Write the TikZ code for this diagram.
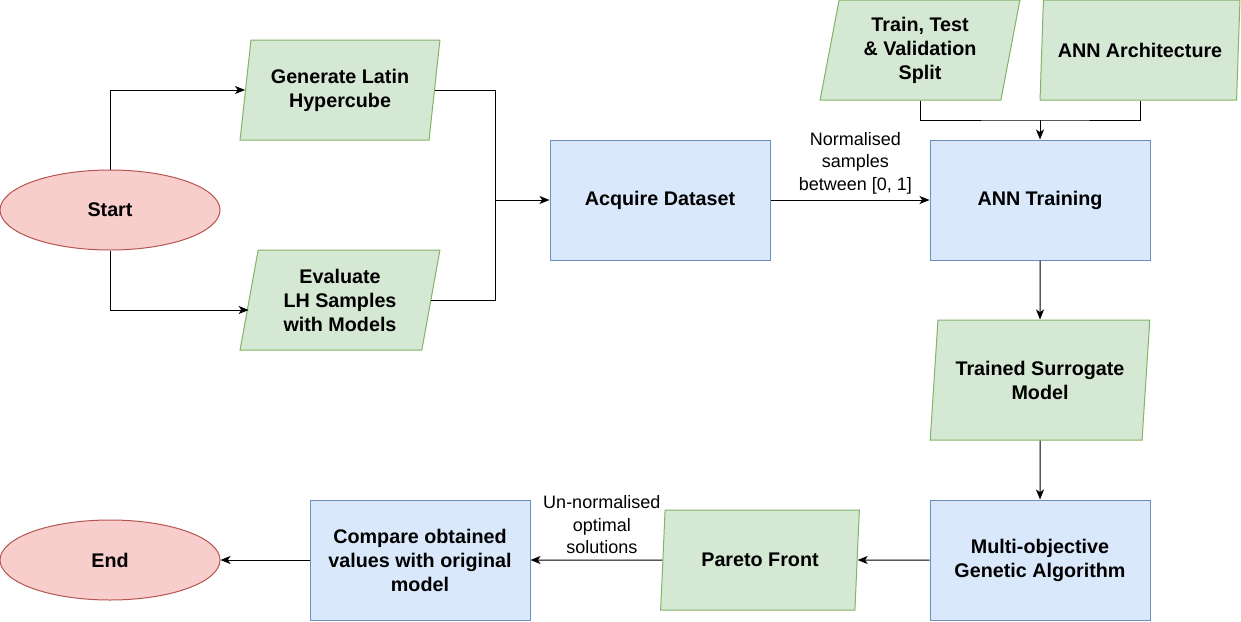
\documentclass[tikz,border=0pt]{standalone}
\usepackage{fontspec}
\setmainfont{Liberation Sans}
\usetikzlibrary{shapes.geometric,arrows.meta}

\definecolor{greenfill}{HTML}{D5E8D4}
\definecolor{greenline}{HTML}{82B366}
\definecolor{bluefill}{HTML}{DAE8FC}
\definecolor{blueline}{HTML}{6C8EBF}
\definecolor{redfill}{HTML}{F8CECC}
\definecolor{redline}{HTML}{B85450}

\tikzset{
  boxfont/.style={font=\fontsize{14.8pt}{18pt}\selectfont\bfseries},
  labelfont/.style={font=\fontsize{13.5pt}{17pt}\selectfont},
  iobox/.style={trapezium, trapezium left angle=78.69, trapezium right angle=101.31,
    trapezium stretches=true, minimum width=150pt, minimum height=75pt, inner sep=0pt,
    draw=greenline, fill=greenfill, line width=0.75pt, align=center, boxfont},
  stepbox/.style={rectangle, minimum width=165pt, minimum height=90pt, inner sep=0pt,
    draw=blueline, fill=bluefill, line width=0.75pt, align=center, boxfont},
  termbox/.style={ellipse, minimum width=165pt, minimum height=60pt, inner sep=0pt,
    draw=redline, fill=redfill, line width=0.75pt, align=center, boxfont},
  link/.style={line width=0.75pt, black},
  arrow/.style={link, -{Stealth[length=7.5pt,width=6pt,inset=2pt]}}
}

\begin{document}
\begin{tikzpicture}[x=0.75pt,y=0.75pt,yscale=-1,xscale=1]
\useasboundingbox (0,0) rectangle (1241,621);

% begin part
\node[termbox] (start) at (110,210) {Start};
\node[iobox] (latin) at (340,90) {Generate Latin\\Hypercube};
\node[iobox] (evalh) at (340,300) {Evaluate\\LH Samples\\with Models};
\node[stepbox] (acquire) at (660,200) {Acquire Dataset};
\node[iobox] (split) at (920,50) {Train, Test\\\& Validation\\Split};
\node[iobox] (arch) at (1140,50) {ANN Architecture};
\node[stepbox] (training) at (1040,200) {ANN Training};
\node[iobox, trapezium left angle=80.54, trapezium right angle=99.46,
  minimum width=165pt, minimum height=90pt] (surrogate) at (1040,380) {Trained Surrogate\\Model};
\node[stepbox] (genetic) at (1040,560) {Multi-objective\\Genetic Algorithm};
\node[iobox] (pareto) at (760,560) {Pareto Front};
\node[stepbox] (compare) at (420,560) {Compare obtained\\values with original\\model};
\node[termbox] (finish) at (110,560) {End};

\coordinate (join) at (495,200);
\coordinate (merge) at (1040,120);

\draw[arrow] (start.north) |- (latin);
\draw[arrow] (start.south) |- ([yshift=7.5pt]evalh.west);
\draw[link] (latin.east) -| (join);
\draw[link] (evalh.east) -| (join);
\draw[arrow] (join) -- (acquire.west);

\draw[arrow] (acquire.east) -- node[labelfont, above, align=center, inner sep=4pt, xshift=4pt] {Normalised\\samples\\between [0, 1]} (training.west);

\draw[link] (split.center |- split.south) |- (merge) -| (arch.center |- arch.south);
\draw[arrow] (merge) -- (training.north);

\draw[arrow] (training.south) -- (surrogate.north);
\draw[arrow] (surrogate.south) -- (genetic.north);
\draw[arrow] (genetic.west) -- (pareto);
\draw[arrow] (pareto) -- node[labelfont, above, align=center, inner sep=4pt, xshift=4pt] {Un-normalised\\optimal\\solutions} (compare.east);
\draw[arrow] (compare.west) -- (finish.east);
\end{tikzpicture}
\end{document}
